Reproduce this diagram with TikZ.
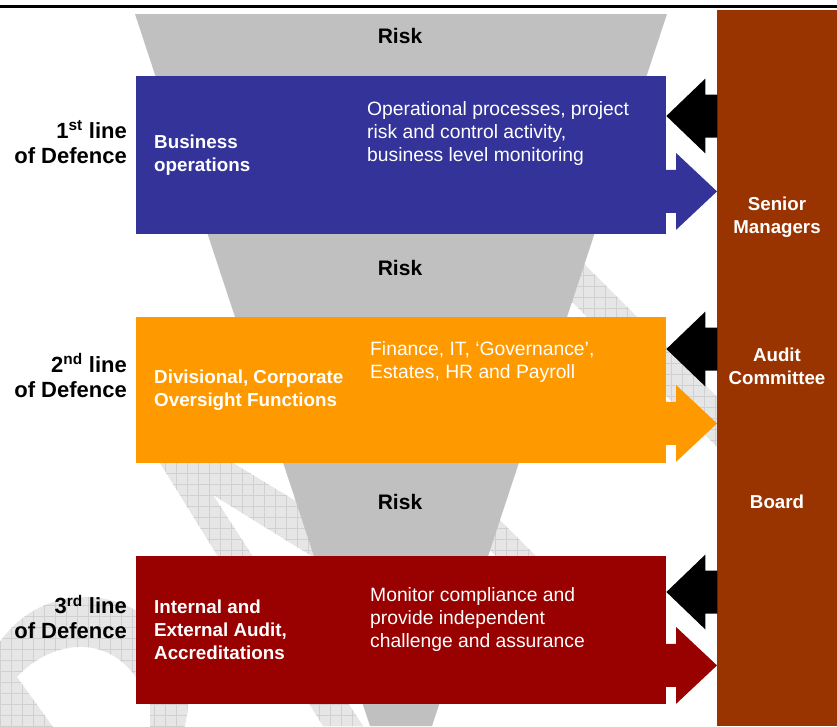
\documentclass[tikz,border=0pt]{standalone}
\usepackage{fontspec}
\setmainfont{Liberation Sans}
\usetikzlibrary{calc,positioning,patterns.meta}

\definecolor{opsblue}{RGB}{51,51,153}
\definecolor{oversightorange}{RGB}{255,153,0}
\definecolor{auditred}{RGB}{153,0,0}
\definecolor{boardbrown}{RGB}{153,51,0}
\definecolor{riskgray}{RGB}{192,192,192}
\definecolor{wmfill}{RGB}{230,230,230}
\definecolor{wmline}{RGB}{208,208,208}

\tikzdeclarepattern{name=wmgrid, type=uncolored,
  bounding box={(-0.5pt,-0.5pt) and (11.5pt,11.5pt)}, tile size={(11pt,11pt)},
  code={\draw[line width=0.8pt] (0pt,0pt) -- (11pt,0pt) (0pt,0pt) -- (0pt,11pt);}}

\tikzset{
lvlbox/.style={rectangle, minimum width=530pt, anchor=north west, inner sep=0pt},
boxtitle/.style={text=white, font=\bfseries\fontsize{18.8}{23}\selectfont, align=left, anchor=west, inner sep=0pt},
boxnote/.style={text=white, font=\fontsize{19.3}{23}\selectfont, align=left, anchor=west, inner sep=0pt},
lineof/.style={font=\bfseries\fontsize{22}{25}\selectfont, align=right, anchor=east, inner sep=0pt},
risk/.style={font=\bfseries\fontsize{21}{24}\selectfont, inner sep=0pt},
colname/.style={text=white, font=\bfseries\fontsize{18.7}{23}\selectfont, align=center, inner sep=0pt},
wmark/.style={preaction={fill=wmfill}, pattern=wmgrid, pattern color=wmline}}

\begin{document}
\begin{tikzpicture}[x=1pt, y=-1pt]

    % Frame
    \fill[white] (0,0) rectangle (837,726);
    \clip (0,0) rectangle (837,726);

    % Watermark
    \fill[wmark] (480,160) -- (717,397) -- (717,447) -- (480,210) -- cycle;
    \fill[wmark] (400,420) -- (545,565) -- (545,605) -- (400,460) -- cycle;
    \fill[wmark] (155,455) -- (220,455) -- (360,540) -- (360,586) -- (213,495)
                 -- (363,726) -- (323,726) -- cycle;
    \fill[wmark, even odd rule] (85,700) circle[radius=103pt]
                 (17,677) .. controls (50,640) and (120,625) .. (150,704)
                 -- (150,745) -- (66,745) -- cycle;

    % Funnel
    \fill[riskgray] (135,14) -- (667,14) -- (432,726) -- (370,726) -- cycle;
    \node[risk] (risk1) at (400,36) {Risk};
    \node[risk] (risk2) at (400,268) {Risk};
    \node[risk] (risk3) at (400,502) {Risk};

    % Nodes
    \node[lvlbox, fill=opsblue, minimum height=158pt] (ops) at (136,76) {};
    \node[lvlbox, fill=oversightorange, minimum height=146pt] (divisional) at (136,317) {};
    \node[lvlbox, fill=auditred, minimum height=148pt] (audit) at (136,556) {};
    \node[rectangle, fill=boardbrown, minimum width=120pt, minimum height=716pt,
          anchor=north west, inner sep=0pt] (governors) at (717,10) {};

    \node[boxtitle, right=18pt of ops.west] (opsname) {Business\\operations};
    \node[boxtitle, right=18pt of divisional.west] (divname) {Divisional, Corporate\\Oversight Functions};
    \node[boxtitle, right=18pt of audit.west] (auditname) {Internal and\\External Audit,\\Accreditations};

    \node[boxnote] (opsnote) at (367,134) {Operational processes, project\\risk and control activity,\\business level monitoring};
    \node[boxnote] (divnote) at (370,362.5) {Finance, IT, `Governance',\\Estates, HR and Payroll};
    \node[boxnote] (auditnote) at (370,619) {Monitor compliance and\\provide independent\\challenge and assurance};

    \node[lineof] (firstline) at (127,142) {1\textsuperscript{st} line\\of Defence};
    \node[lineof] (secondline) at (127,375.5) {2\textsuperscript{nd} line\\of Defence};
    \node[lineof] (thirdline) at (127,617) {3\textsuperscript{rd} line\\of Defence};

    \node[colname] (senior) at (777,217.5) {Senior\\Managers};
    \node[colname] (committee) at (777,366.5) {Audit\\Committee};
    \node[colname] (board) at (777,502) {Board};

    % Edges
    \foreach \lvl/\shade/\up/\down in {ops/opsblue/40/43, divisional/oversightorange/32/40, audit/auditred/36/39} {
      \fill[black] ($(\lvl.north east)+(0,\up)$) -- ++(39,-37.5) -- ++(0,16) -- ++(12,0)
                   -- ++(0,43) -- ++(-12,0) -- ++(0,16) -- cycle;
      \fill[\shade] ($(\lvl.south east -| governors.west)+(0,-\down)$) -- ++(-41,-38.5) -- ++(0,17)
                   -- ++(-10,0) -- ++(0,43) -- ++(10,0) -- ++(0,17) -- cycle;
    }

    % Rule
    \draw[line width=2.5pt] (0,6.5) -- (837,6.5);
  \end{tikzpicture}
\end{document}
